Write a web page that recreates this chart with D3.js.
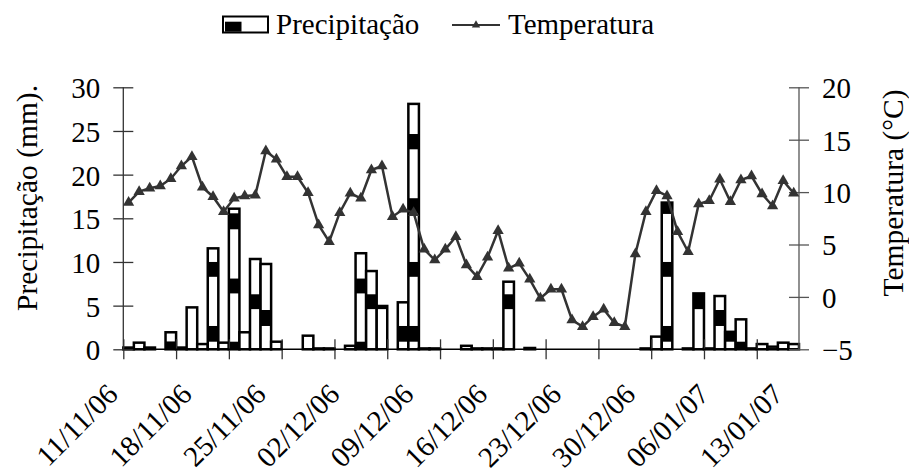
<!DOCTYPE html>
<html>
<head>
<meta charset="utf-8">
<script src="https://cdn.jsdelivr.net/npm/d3@7"></script>
<style>
  body { margin: 0; background: #fff; }
  svg { display: block; font-family: "Liberation Serif", "Times New Roman", serif; }
</style>
</head>
<body>
<svg id="chart" width="909" height="475"></svg>
<script>
// ---- Data ----
const startDate = "2006-11-11";
const dayCount = 64;
const xTickLabels = ["11/11/06","18/11/06","25/11/06","02/12/06","09/12/06","16/12/06","23/12/06","30/12/06","06/01/07","13/01/07"];
const precipitation = [
  0.2, 0.76, 0.2, 0, 1.95, 0.2, 4.8, 0.6, 11.56, 0.76,
  16.1, 1.95, 10.34, 9.77, 0.87, 0, 0, 1.56, 0.1, 0.1,
  0, 0.4, 11.0, 8.96, 4.96, 0, 5.38, 28.1, 0.1, 0.1,
  0, 0, 0.4, 0.1, 0.1, 0.1, 7.74, 0, 0.15, 0,
  0, 0, 0, 0, 0, 0, 0, 0, 0, 0.1,
  1.45, 16.8, 0, 0.1, 6.4, 0.1, 6.1, 2.0, 3.43, 0.1,
  0.6, 0.3, 0.76, 0.6
];
const temperature = [
  9.0, 10.04, 10.36, 10.58, 11.28, 12.49, 13.38, 10.46, 9.56, 8.13,
  9.41, 9.63, 9.69, 13.92, 13.13, 11.47, 11.47, 9.94, 6.86, 5.27,
  8.04, 9.89, 9.41, 12.11, 12.49, 7.65, 8.36, 8.04, 4.54, 3.52,
  4.54, 5.74, 3.04, 1.93, 3.78, 6.32, 2.73, 3.21, 1.68, -0.13,
  0.73, 0.73, -2.2, -2.84, -1.89, -1.18, -2.46, -2.84, 4.09, 8.13,
  10.13, 9.63, 6.22, 4.31, 8.86, 9.18, 11.22, 9.09, 11.15, 11.53,
  9.82, 8.67, 11.09, 9.89
];
// black bands seen inside bars: [day index, from mm, to mm]
const precipBands = [
  [4, 0, 0.9],
  [8, 8.3, 10.0], [8, 0.87, 2.67],
  [10, 13.74, 15.57], [10, 6.4, 8.1], [10, 0, 0.87],
  [12, 4.6, 6.3], [13, 2.67, 4.5],
  [22, 6.4, 8.1], [22, 0, 0.87],
  [23, 4.6, 6.3], [24, 4.6, 4.96],
  [26, 0.87, 2.67],
  [27, 22.9, 24.65], [27, 15.57, 17.3], [27, 8.3, 10.0], [27, 0.87, 2.67],
  [36, 4.6, 6.3],
  [51, 15.5, 16.8], [51, 8.3, 10.0], [51, 0.87, 2.67],
  [54, 4.6, 6.4], [56, 2.67, 4.5], [57, 0.87, 2.0], [58, 0, 0.87]
];
const precipTicks = [0, 5, 10, 15, 20, 25, 30];
const tempTicks = [-5, 0, 5, 10, 15, 20];

// ---- Layout ----
const svg = d3.select("#chart");
const L = 123.3, R = 799, T = 87.3, B = 349.3;
const fmt = d3.timeFormat("%d/%m/%y");
const t0 = d3.timeParse("%Y-%m-%d")(startDate);
const dates = d3.range(dayCount).map(i => fmt(d3.timeDay.offset(t0, i)));

const x = d3.scaleBand().domain(dates).range([L, R]).padding(0);
const xIdx = d3.scaleLinear().domain([0, dayCount]).range([L, R]);
const yP = d3.scaleLinear().domain([0, 30]).range([B, T]);
const yT = d3.scaleLinear().domain([-5, 20]).range([B, T]);
const bw = x.bandwidth();

// bars
const gBars = svg.append("g");
gBars.selectAll("rect.bar").data(precipitation.map((v, i) => ({v, d: dates[i]})).filter(o => o.v > 0))
  .enter().append("rect").attr("class", "bar")
  .attr("x", o => x(o.d)).attr("width", bw)
  .attr("y", o => yP(o.v)).attr("height", o => yP(0) - yP(o.v))
  .attr("fill", "#fff").attr("stroke", "#000").attr("stroke-width", 2.5);
gBars.selectAll("rect.band").data(precipBands).enter().append("rect").attr("class", "band")
  .attr("x", b => x(dates[b[0]])).attr("width", bw)
  .attr("y", b => yP(b[2])).attr("height", b => yP(b[1]) - yP(b[2]))
  .attr("fill", "#000");

// axes
const axisColor = "#333";
const gx = svg.append("g").attr("transform", `translate(0,${B})`)
  .call(d3.axisBottom(xIdx).tickValues(d3.range(0, 61, 5)).tickSize(10).tickFormat(""));
gx.select(".domain").remove();
gx.selectAll(".tick line").attr("y1", -10).attr("y2", 10).attr("stroke", axisColor).attr("stroke-width", 1.3);
svg.append("line").attr("x1", L).attr("x2", R).attr("y1", B).attr("y2", B).attr("stroke", "#000").attr("stroke-width", 1.5);

const gl = svg.append("g").attr("transform", `translate(${L},0)`)
  .call(d3.axisLeft(yP).tickValues(precipTicks).tickSize(10).tickPadding(13));
gl.select(".domain").remove();
gl.attr("font-family", null);
gl.selectAll(".tick line").attr("x1", 10).attr("x2", -10).attr("stroke", axisColor).attr("stroke-width", 1.3);
gl.selectAll(".tick text").attr("font-size", 29).attr("font-family", "Liberation Serif").attr("fill", "#000").attr("dy", "0.36em");
svg.append("line").attr("x1", L).attr("x2", L).attr("y1", T).attr("y2", B).attr("stroke", axisColor).attr("stroke-width", 1.3);

const gr = svg.append("g").attr("transform", `translate(${R},0)`)
  .call(d3.axisRight(yT).tickValues(tempTicks).tickSize(10).tickPadding(13));
gr.select(".domain").remove();
gr.attr("font-family", null);
gr.selectAll(".tick line").attr("x1", -10).attr("x2", 10).attr("stroke", "#555").attr("stroke-width", 1.3);
gr.selectAll(".tick text").attr("font-size", 29).attr("font-family", "Liberation Serif").attr("fill", "#000").attr("dy", "0.36em");
svg.append("line").attr("x1", R).attr("x2", R).attr("y1", T).attr("y2", B).attr("stroke", "#555").attr("stroke-width", 1.3);

// x labels every 7 days
svg.append("g").selectAll("text").data(xTickLabels).enter().append("text")
  .attr("transform", d => `translate(${x(d) + bw / 2 - 9},396) rotate(-45)`)
  .attr("text-anchor", "end").attr("font-size", 29).text(d => d);

// temperature line
const lineColor = "#333";
const pts = temperature.map((v, i) => [x(dates[i]) + bw / 2, yT(v)]);
svg.append("path").attr("d", d3.line()(pts)).attr("fill", "none").attr("stroke", lineColor).attr("stroke-width", 2.5);
const tri = d3.symbol().type(d3.symbolTriangle).size(55);
svg.append("g").selectAll("path").data(pts).enter().append("path")
  .attr("d", tri).attr("transform", p => `translate(${p[0]},${p[1]})`).attr("fill", lineColor);

// axis titles
svg.append("text").attr("transform", "translate(37,198) rotate(-90)").attr("text-anchor", "middle")
  .attr("font-size", 29.5).text("Precipitação (mm).");
svg.append("text").attr("transform", "translate(903,193) rotate(-90)").attr("text-anchor", "middle")
  .attr("font-size", 29.5).text("Temperatura (°C)");

// legend
const lg = svg.append("g");
lg.append("rect").attr("x", 223).attr("y", 16.5).attr("width", 45).attr("height", 16).attr("fill", "#fff").attr("stroke", "#000").attr("stroke-width", 2);
lg.append("rect").attr("x", 225).attr("y", 21.7).attr("width", 16.5).attr("height", 10).attr("fill", "#000");
lg.append("text").attr("x", 276).attr("y", 34).attr("font-size", 29).text("Precipitação");
lg.append("line").attr("x1", 452).attr("x2", 500).attr("y1", 25).attr("y2", 25).attr("stroke", lineColor).attr("stroke-width", 2);
lg.append("path").attr("d", d3.symbol().type(d3.symbolTriangle).size(30)).attr("transform", "translate(476,25)").attr("fill", lineColor);
lg.append("text").attr("x", 508).attr("y", 34).attr("font-size", 29).text("Temperatura");
</script>
</body>
</html>
